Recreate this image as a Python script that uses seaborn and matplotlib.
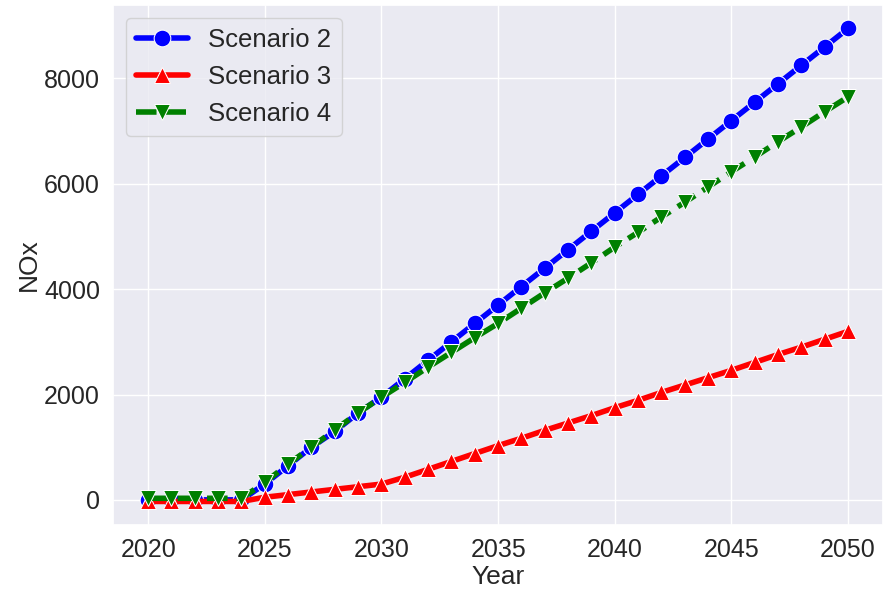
import pandas as pd
import matplotlib
matplotlib.use("Agg")
import matplotlib.pyplot as plt
import seaborn as sns

years = list(range(2020, 2051))

scenario2 = [0, 0, 0, 0, 0, 300, 650, 1000, 1300, 1650, 1950, 2300, 2650, 3000, 3350, 3700,
             4050, 4400, 4750, 5100, 5450, 5800, 6150, 6500, 6850, 7200, 7550, 7900, 8250, 8600, 8950]
scenario3 = [-30, -30, -30, -30, -30, 50, 100, 150, 200, 250, 300, 430, 580, 730, 880, 1030,
             1170, 1320, 1460, 1600, 1750, 1890, 2040, 2180, 2320, 2460, 2610, 2760, 2900, 3050, 3200]
scenario4 = [30, 30, 30, 30, 30, 330, 680, 1000, 1330, 1650, 1950, 2230, 2520, 2800, 3080, 3350,
             3640, 3930, 4210, 4500, 4800, 5080, 5370, 5650, 5940, 6230, 6510, 6800, 7080, 7370, 7650]

labels = ["Scenario 2", "Scenario 3", "Scenario 4"]
colors = ["blue", "red", "green"]
markers = ["o", "^", "v"]
styles = ["-", "-", "--"]

data = pd.DataFrame({"Year": years, labels[0]: scenario2, labels[1]: scenario3, labels[2]: scenario4})

sns.set_theme(style="darkgrid")
plt.rcParams['font.family'] = ['Arial', 'Liberation Sans', 'DejaVu Sans']

fig, ax = plt.subplots(figsize=(8.84, 5.92), dpi=100)
for lab, col, mk, ls in zip(labels, colors, markers, styles):
    sns.lineplot(data=data, x="Year", y=lab, color=col, marker=mk, markersize=12,
                 linewidth=4, linestyle=ls, label=lab, ax=ax)

ax.set_xlabel("Year", fontsize=19, labelpad=2)
ax.set_ylabel("NOx", fontsize=19, labelpad=2)
ax.tick_params(labelsize=18)
ax.set_yticks([0, 2000, 4000, 6000, 8000])
ax.legend(fontsize=18.5, loc="upper left")
plt.subplots_adjust(left=0.128, right=0.999, top=0.992, bottom=0.113)
plt.savefig("out.png", dpi=100)
